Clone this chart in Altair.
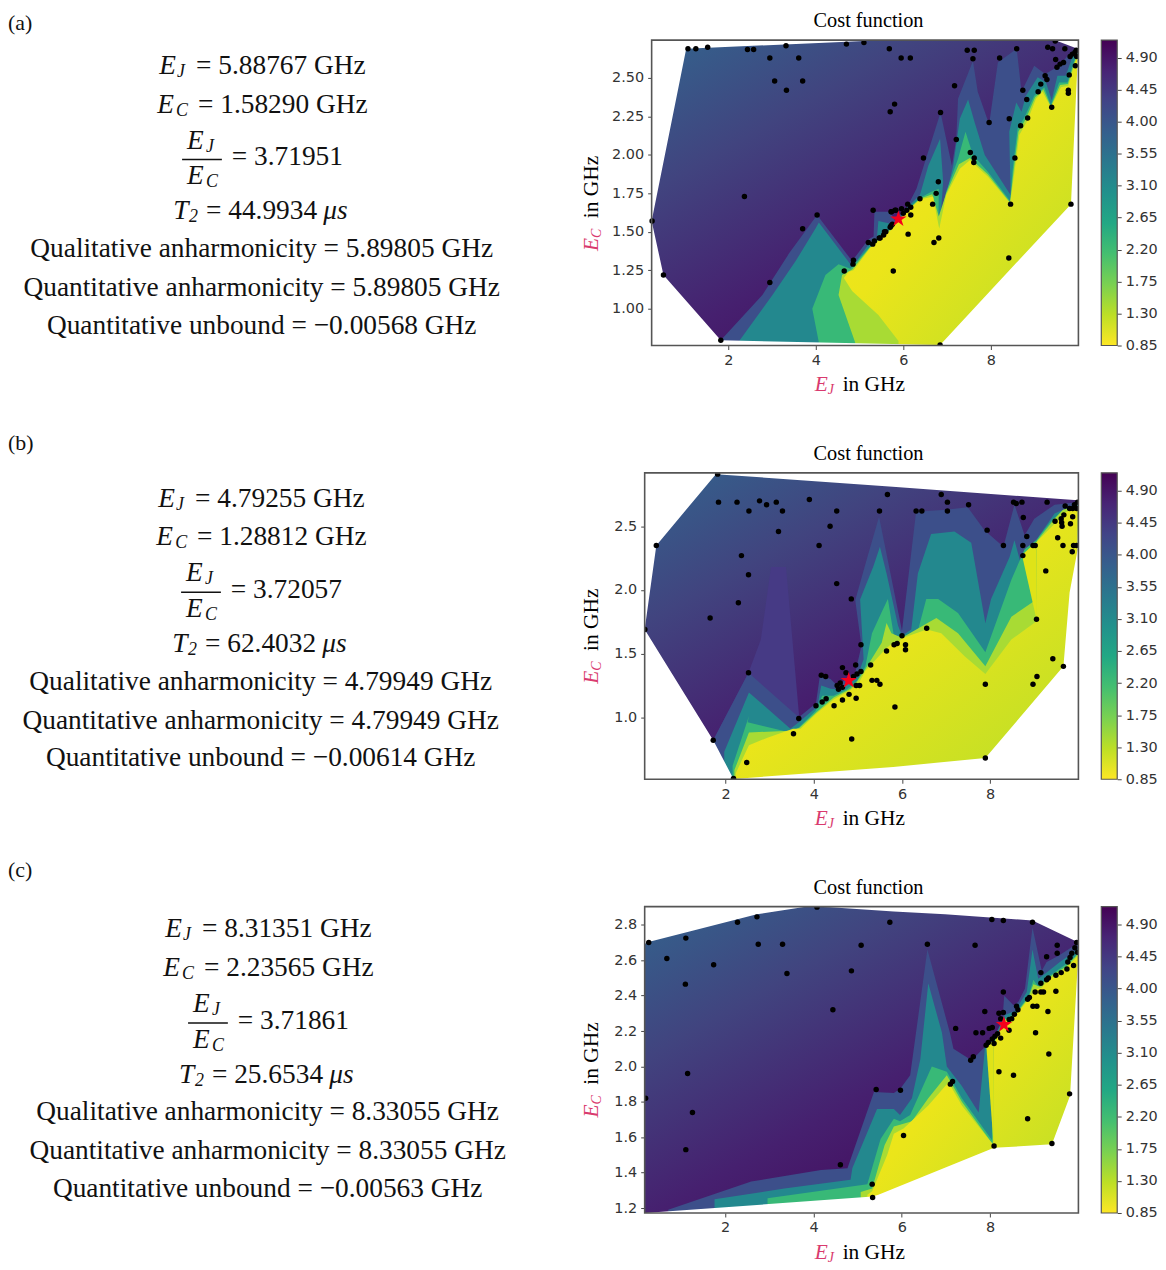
import altair as alt
import pandas as pd

# ---------- values (GHz) ----------
A_POINTS = [(1.08,2.69),(1.26,2.69),(1.53,2.70),(2.44,2.685),(2.58,2.685),(3.32,2.71),(2.95,2.63),(3.61,2.63),(3.06,2.48),(3.70,2.48),(3.33,2.42),(4.70,2.72),(5.10,2.73),(5.68,2.69),(5.80,2.33),(5.70,2.28),(2.37,1.73),(4.03,1.61),(3.70,1.52),(0.26,1.57),(0.52,1.22),(2.95,1.17),(1.83,0.795),(4.65,1.245),(4.85,1.29),(4.86,1.315),(5.31,1.64),(5.77,1.245),(5.20,1.43),(5.30,1.42),(5.34,1.44),(5.45,1.46),(5.55,1.48),(5.60,1.50),(5.70,1.53),(5.75,1.55),(5.72,1.63),(5.83,1.64),
(5.95,2.63),(6.16,2.63),(7.46,2.68),(7.62,2.68),(7.59,2.625),(8.59,2.69),(8.20,2.63),(9.47,2.74),(9.30,2.70),(9.41,2.69),(9.69,2.69),(9.48,2.62),(9.51,2.57),(9.58,2.59),(9.66,2.60),(9.81,2.64),(9.86,2.655),(9.92,2.665),(9.95,2.68),(9.96,2.64),(9.93,2.58),(9.79,2.52),(9.24,2.515),(9.28,2.49),(9.14,2.46),(9.08,2.41),(8.73,2.42),(8.82,2.36),(9.77,2.42),(9.77,2.40),(9.39,2.31),(8.84,2.24),(8.42,2.235),(8.68,2.19),(7.96,2.21),(7.17,2.45),(6.85,2.275),(7.21,2.10),(6.46,1.98),(7.53,2.015),(7.62,1.98),(7.61,1.95),(8.55,1.98),(6.80,1.825),(6.75,1.75),(6.38,1.715),(6.67,1.68),(8.45,1.68),(9.83,1.68),(6.11,1.485),(6.81,1.46),(6.70,1.43),(8.41,1.33),(6.84,0.765),(5.73,1.63),(5.81,1.64),(5.96,1.65),(6.10,1.68),(6.17,1.66),(6.08,1.64),(6.17,1.61),(6.0,1.62),(5.72,1.54),(5.57,1.50),(5.47,1.46)]
A_STAR = [(5.88767,1.5829)]
A_UPPER = [(0.25,1.57),(1.04,2.69),(5.10,2.74),(9.47,2.745),(9.98,2.69),(10.0,2.69)]
A_LOWER = [(0.25,1.57),(0.52,1.22),(1.83,0.795),(6.84,0.765),(9.83,1.68),(9.98,2.60),(10.0,2.69)]
A_BLUE = [(1.83,.795),(2.78,1.09),(3.39,1.36),(4.03,1.61),(4.83,1.31),(5.20,1.45),(5.32,1.47),(5.34,1.63),(5.70,1.63),(5.81,1.57),(6.11,1.675),(6.30,1.78),(6.85,2.275),(7.11,1.93),(7.21,2.105),(7.25,2.365),(7.59,2.61),(7.70,2.41),(7.96,2.20),(8.16,2.60),(8.59,2.69),(8.70,2.41),(8.99,2.58),(9.24,2.525),(9.45,2.56),(9.56,2.57),(9.75,2.645),(9.98,2.71)]
A_TEAL = [(2.25,.79),(3.01,1.09),(3.54,1.31),(3.99,1.52),(4.07,1.56),(4.83,1.275),(5.24,1.43),(5.39,1.44),(5.43,1.57),(5.66,1.555),(5.77,1.535),(6.11,1.665),(6.38,1.74),(6.57,1.93),(6.84,2.105),(6.91,1.825),(6.85,1.59),(7.14,1.93),(7.29,2.235),(7.48,2.36),(7.63,2.21),(7.86,2.0),(8.45,1.74),(8.42,2.15),(8.58,2.34),(8.70,2.28),(8.80,2.385),(9.07,2.505),(9.26,2.47),(9.39,2.355),(9.52,2.515),(9.71,2.515),(9.86,2.635),(9.98,2.69)]
A_GREEN = [(4.07,.78),(3.92,1.0),(4.22,1.22),(4.52,1.29),(4.79,1.26),(5.24,1.405),(5.39,1.415),(5.47,1.48),(5.62,1.50),(5.77,1.525),(6.11,1.65),(6.38,1.72),(6.64,1.76),(6.81,1.78),(6.80,1.545),(6.98,1.76),(7.25,1.975),(7.42,2.15),(7.59,2.0),(7.93,1.89),(8.44,1.70),(8.50,1.91),(8.61,2.17),(8.77,2.245),(8.99,2.385),(9.22,2.44),(9.37,2.325),(9.56,2.47),(9.75,2.47),(9.90,2.61),(9.98,2.665)]
A_LIME = [(4.90,.78),(4.52,1.09),(4.60,1.22),(4.83,1.255),(5.24,1.40),(5.47,1.46),(5.72,1.52),(6.11,1.645),(6.38,1.715),(6.66,1.745),(6.81,1.60),(6.98,1.75),(7.27,1.94),(7.52,1.98),(7.93,1.875),(8.44,1.69),(8.52,1.90),(8.63,2.15),(8.80,2.235),(9.01,2.375),(9.20,2.425),(9.37,2.315),(9.58,2.455),(9.76,2.46),(9.90,2.595),(9.98,2.655)]
A_YELLOW = [(5.89,.79),(5.43,.96),(4.83,1.115),(4.64,1.2),(4.75,1.24),(4.86,1.25),(5.24,1.395),(5.47,1.45),(5.72,1.51),(6.11,1.64),(6.38,1.71),(6.68,1.73),(6.82,1.52),(6.98,1.74),(7.29,1.91),(7.52,1.965),(7.93,1.86),(8.44,1.685),(8.54,1.89),(8.65,2.13),(8.84,2.225),(9.03,2.365),(9.18,2.41),(9.37,2.31),(9.60,2.44),(9.77,2.45),(9.90,2.58),(9.98,2.645)]

B_POINTS = [(1.82,2.91),(1.84,2.69),(2.26,2.69),(2.53,2.62),(2.77,2.70),(2.93,2.67),(3.15,2.69),(3.29,2.62),(3.90,2.71),(4.52,2.62),(4.37,2.50),(3.20,2.46),(4.12,2.35),(0.43,2.35),(2.36,2.27),(2.52,2.12),(4.52,2.05),(4.85,1.93),(2.29,1.90),(1.65,1.78),(0.17,1.69),(5.07,1.57),(5.65,1.52),(5.67,2.75),(5.49,2.62),(4.95,1.41),(5.29,1.41),(4.65,1.39),(4.73,1.35),(5.07,1.36),(4.98,1.34),(4.90,1.32),(2.52,1.35),(4.17,1.33),(4.27,1.32),(5.32,1.29),(5.43,1.29),(5.50,1.26),(5.04,1.25),(4.96,1.25),(4.60,1.27),(4.53,1.25),(4.56,1.22),(4.65,1.235),(4.80,1.18),(4.96,1.15),(4.65,1.135),(4.46,1.09),(4.28,1.145),(4.19,1.12),(4.05,1.09),(3.66,.99),(3.54,.87),(4.86,.83),(1.72,.82),(2.48,.645),(2.18,.52),
(6.89,2.75),(7.03,2.69),(7.03,2.62),(6.32,2.62),(6.45,2.62),(7.51,2.67),(8.53,2.69),(8.59,2.68),(8.72,2.69),(9.29,2.69),(9.70,2.66),(9.80,2.64),(9.91,2.67),(9.98,2.69),(9.87,2.64),(9.96,2.64),(8.75,2.57),(9.67,2.59),(9.47,2.54),(9.61,2.56),(9.62,2.53),(9.63,2.50),(9.87,2.575),(9.82,2.52),(7.93,2.47),(8.83,2.42),(8.30,2.35),(8.74,2.35),(8.97,2.35),(9.02,2.35),(9.65,2.35),(9.89,2.35),(9.96,2.35),(9.53,2.41),(8.74,2.27),(9.86,2.30),(9.26,2.15),(9.05,1.77),(6.56,1.70),(6.0,1.64),(5.89,1.58),(5.82,1.57),(6.08,1.57),(6.08,1.53),(9.42,1.46),(9.66,1.40),(9.06,1.32),(8.97,1.26),(7.89,1.26),(5.84,1.08),(7.89,.68)]
B_STAR = [(4.79255,1.28812)]
B_UPPER = [(0.166,1.69),(0.43,2.35),(1.78,2.91),(5.79,2.81),(9.98,2.705),(10.0,2.70)]
B_LOWER = [(0.166,1.69),(1.72,.82),(2.18,.515),(5.80,.61),(7.89,.68),(9.66,1.40),(9.80,1.98),(9.98,2.315),(10.0,2.70)]
B_FAINT = [(1.72,.82),(2.52,1.35),(2.80,1.61),(3.03,2.18),(3.37,2.18),(3.67,1.0)]
B_BLUE = [(1.72,.82),(2.52,1.35),(3.66,1.0),(4.05,1.11),(4.14,1.33),(4.38,1.30),(4.53,1.25),(4.94,1.35),(5.08,1.56),(4.94,1.92),(5.20,2.24),(5.48,2.575),(6.0,1.68),(6.32,2.615),(7.0,2.63),(7.49,2.65),(7.87,2.47),(8.30,2.34),(8.55,2.67),(8.78,2.43),(9.0,2.56),(9.46,2.67),(9.98,2.69)]
B_TEAL = [(1.97,.73),(2.53,1.195),(3.47,.91),(3.66,.96),(4.08,1.085),(4.17,1.25),(4.38,1.225),(4.53,1.22),(4.98,1.31),(5.13,1.455),(5.05,1.925),(5.35,2.185),(5.50,2.34),(5.65,2.13),(5.91,1.72),(6.0,1.64),(6.21,1.69),(6.36,2.13),(6.66,2.44),(7.19,2.46),(7.57,2.37),(7.89,1.74),(8.02,1.93),(8.44,2.26),(8.55,2.39),(9.0,1.82),(9.04,1.925),(9.10,2.42),(9.46,2.60),(9.98,2.68)]
B_GREEN = [(2.16,.62),(2.53,1.01),(2.50,.96),(3.47,.88),(3.66,.92),(4.04,1.05),(4.19,1.17),(4.45,1.17),(4.75,1.22),(4.98,1.285),(5.17,1.40),(5.32,1.66),(5.53,1.82),(5.68,1.93),(5.83,1.61),(6.0,1.63),(6.36,1.68),(6.55,1.93),(6.82,1.93),(7.27,1.82),(7.89,1.51),(8.48,2.08),(8.78,2.32),(9.04,2.39),(9.38,2.54),(9.61,2.615),(9.98,2.67)]
B_LIME = [(2.2,.585),(2.53,.88),(3.47,.895),(3.67,.915),(4.06,1.04),(4.45,1.155),(4.83,1.225),(4.99,1.285),(5.17,1.38),(5.54,1.585),(5.65,1.74),(5.76,1.66),(6.0,1.625),(6.48,1.72),(6.78,1.78),(7.27,1.66),(7.89,1.40),(8.48,1.79),(9.05,1.925),(9.06,2.385),(9.46,2.56),(9.65,2.63),(9.98,2.66)]
B_YELLOW = [(2.23,.56),(2.53,.78),(2.95,.84),(3.53,.91),(3.70,.91),(4.06,1.03),(4.45,1.14),(4.83,1.215),(5.02,1.27),(5.17,1.365),(5.65,1.545),(5.80,1.585),(5.83,1.56),(6.0,1.62),(6.56,1.69),(6.89,1.66),(7.42,1.48),(7.89,1.34),(8.48,1.61),(9.05,1.755),(9.06,2.38),(9.46,2.52),(9.65,2.60),(9.98,2.655)]
B_PATCH = [(8.72,2.275,2.275),(9.055,1.76,2.38)]

C_POINTS = [(4.08,2.90),(2.72,2.845),(2.28,2.815),(1.11,2.725),(.27,2.70),(2.75,2.69),(3.30,2.69),(.68,2.61),(1.74,2.575),(3.40,2.525),(1.10,2.465),(4.86,2.54),(5.08,2.685),(5.73,2.815),(4.44,2.32),(1.15,1.96),(.20,1.82),(1.26,1.74),(1.11,1.53),(5.42,1.87),(4.61,1.445),(5.33,1.335),(5.34,1.26),
(6.58,2.69),(7.66,2.685),(8.04,2.83),(8.30,2.825),(8.96,2.815),(9.52,2.685),(9.52,2.64),(9.28,2.62),(9.96,2.70),(9.92,2.67),(9.98,2.645),(9.85,2.64),(9.81,2.615),(9.76,2.59),(9.89,2.57),(9.74,2.55),(9.61,2.53),(9.49,2.515),(9.32,2.50),(9.28,2.49),(9.15,2.53),(9.15,2.47),(9.02,2.42),(9.15,2.42),(9.21,2.42),(9.49,2.425),(8.89,2.39),(8.85,2.38),(8.30,2.42),(8.60,2.34),(8.63,2.32),(8.55,2.295),(8.49,2.27),(8.43,2.265),(8.97,2.34),(9.06,2.34),(9.31,2.31),(7.88,2.31),(8.20,2.30),(8.30,2.305),(8.24,2.27),(7.22,2.215),(7.98,2.215),(8.05,2.22),(7.68,2.19),(7.83,2.19),(8.43,2.205),(9.03,2.19),(8.17,2.185),(8.11,2.17),(8.05,2.155),(8.24,2.16),(8.09,2.13),(7.96,2.135),(7.91,2.12),(7.62,2.055),(7.56,2.035),(9.33,2.07),(8.20,1.97),(8.53,1.95),(7.15,1.915),(7.10,1.90),(9.80,1.845),(5.97,1.865),(8.85,1.705),(6.04,1.61),(8.09,1.55),(9.40,1.565)]
C_STAR = [(8.31351,2.23565)]
C_UPPER = [(0.178,2.69),(.22,2.70),(2.72,2.86),(3.86,2.903),(4.39,2.90),(5.82,2.875),(6.98,2.86),(8.96,2.825),(9.92,2.71),(10.0,2.71)]
C_LOWER = [(0.178,1.172),(5.34,1.265),(5.47,1.275),(8.09,1.54),(9.40,1.56),(9.81,1.835),(10.0,2.64),(10.0,2.71)]
C_BLUE = [(.71,1.19),(2.59,1.35),(4.17,1.415),(4.77,1.425),(5.37,1.855),(5.82,1.85),(5.97,1.875),(6.19,1.95),(6.58,2.66),(7.09,2.19),(7.17,2.1),(7.58,2.035),(7.92,2.12),(8.26,2.2),(8.32,2.40),(8.53,2.345),(8.64,2.365),(8.79,2.44),(8.96,2.785),(9.17,2.54),(9.28,2.59),(9.55,2.625),(9.89,2.68),(10.0,2.70)]
C_TEAL = [(1.76,1.25),(3.34,1.31),(4.84,1.36),(4.88,1.425),(5.44,1.76),(5.82,1.76),(5.96,1.725),(6.23,1.82),(6.42,2.04),(6.60,2.47),(6.91,2.19),(7.02,2.0),(7.36,1.89),(7.74,1.74),(7.89,2.12),(8.04,2.14),(8.34,2.29),(8.57,2.315),(8.83,2.42),(8.96,2.66),(9.09,2.495),(9.28,2.53),(9.58,2.59),(9.89,2.645),(10.0,2.67)]
C_GREEN = [(2.96,1.255),(5.22,1.335),(5.52,1.59),(5.82,1.705),(5.96,1.69),(6.19,1.725),(6.68,2.0),(7.02,1.97),(7.36,1.82),(8.04,1.585),(8.08,2.14),(8.34,2.27),(8.57,2.30),(8.87,2.395),(8.98,2.49),(9.09,2.45),(9.28,2.50),(9.70,2.575),(9.92,2.62),(10.0,2.65)]
C_LIME = [(5.07,1.29),(5.33,1.31),(5.61,1.555),(5.82,1.66),(5.96,1.67),(6.23,1.69),(6.60,1.82),(7.02,1.95),(7.36,1.80),(8.06,1.56),(8.08,2.13),(8.34,2.265),(8.57,2.29),(8.87,2.39),(8.98,2.465),(9.13,2.45),(9.28,2.495),(9.70,2.56),(9.92,2.615),(10.0,2.64)]
C_YELLOW = [(5.22,1.275),(5.33,1.295),(5.67,1.5),(5.82,1.62),(6.04,1.65),(6.60,1.78),(7.06,1.91),(7.36,1.78),(8.08,1.555),(8.08,2.12),(8.34,2.26),(8.57,2.287),(8.87,2.38),(9.02,2.435),(9.17,2.445),(9.32,2.49),(9.70,2.55),(9.92,2.605),(10.0,2.63)]
C_PATCH = [(7.91,2.13,2.13),(8.08,1.555,2.14)]

X_TICKS = [2, 4, 6, 8]
A_Y_TICKS = [1.00, 1.25, 1.50, 1.75, 2.00, 2.25, 2.50]
B_Y_TICKS = [1.0, 1.5, 2.0, 2.5]
C_Y_TICKS = [1.2, 1.4, 1.6, 1.8, 2.0, 2.2, 2.4, 2.6, 2.8]
CBAR_TICKS = [0.85, 1.30, 1.75, 2.20, 2.65, 3.10, 3.55, 4.00, 4.45, 4.90]
CBAR_RANGE = (0.85, 5.15)

LABELS = ["(a)", "(b)", "(c)"]
EJ = ["5.88767", "4.79255", "8.31351"]
EC = ["1.58290", "1.28812", "2.23565"]
RATIO = ["3.71951", "3.72057", "3.71861"]
T2 = ["44.9934", "62.4032", "25.6534"]
QUAL = ["5.89805", "4.79949", "8.33055"]
UNBOUND = ["\u22120.00568", "\u22120.00614", "\u22120.00563"]

# ---------- layout and style ----------
SERIF = "Liberation Serif"
SANS = "DejaVu Sans"
PINK = "#d93a6e"
FRAME = "#555555"
TICK = "#444444"
VIRIDIS_R = ["#440154","#482475","#414487","#355f8d","#2a788e","#21918c","#22a884","#44bf70","#7ad151","#bddf26","#fde725"]
LEVEL_COLORS = dict(faint="#463a85", blue="#3c4f8a", teal="#23888e", green="#38b977", lime="#a8db34")
CELL_W = 436
TEXT_W = 640
LEFT = 645

def grad(stops, x1=0, y1=0, x2=1, y2=1):
    return alt.LinearGradient(gradient="linear", x1=x1, y1=y1, x2=x2, y2=y2,
                              stops=[alt.GradientStop(offset=o, color=c) for o, c in stops])

def panel(points, star, upper, lower, levels, yellow, patch, xdom, ydom, yticks, yfmt, inset, h):
    xa = alt.Axis(values=X_TICKS, grid=False, domain=False, tickColor=TICK, tickSize=4, labelColor="#333333",
                  labelFont=SANS, labelFontSize=14.5, title=None, labelPadding=4)
    ya = alt.Axis(values=yticks, format=yfmt, grid=False, domain=False, tickColor=TICK, tickSize=4, labelColor="#333333",
                  labelFont=SANS, labelFontSize=14.5, title=None, labelPadding=4, offset=-inset)
    X = lambda: alt.X("x:Q", scale=alt.Scale(domain=xdom, range=[inset, CELL_W], nice=False, zero=False), axis=xa)
    Y = lambda: alt.Y("y:Q", scale=alt.Scale(domain=ydom, nice=False, zero=False), axis=ya, stack=None)
    def area(rows, color, edge):
        df = pd.DataFrame([{"x": r[0], "y": r[1], "b": edge} for r in rows])
        return alt.Chart(df).mark_area(color=color, clip=True, interpolate="linear", order=False).encode(
            x=X(), y=Y(), y2="b:Q")
    layers = []
    base = [(xdom[0], ydom[1]), (xdom[1], ydom[1])]
    layers.append(area(base, grad([(0,"#33638d"),(0.3,"#41447f"),(0.62,"#46206f"),(0.85,"#440f60")], 0, 0, 0.8, 1), ydom[0]))
    for rows, c in levels:
        layers.append(area(rows, c, ydom[0]))
    layers.append(area(yellow, grad([(0,"#f6e61f"),(0.45,"#ebe51a"),(1,"#b8de29")], 0, 0, 1, 1), ydom[0]))
    if patch:
        pf = pd.DataFrame([{"x": p[0], "y": p[1], "y2": p[2]} for p in patch])
        layers.append(alt.Chart(pf).mark_area(color="#dfe318", clip=True).encode(x=X(), y=Y(), y2="y2:Q"))
    layers.append(area(lower, "white", ydom[0]))
    layers.append(area(upper, "white", ydom[1]))
    pts = pd.DataFrame(points, columns=["x", "y"])
    layers.append(alt.Chart(pts).mark_circle(color="black", size=30, opacity=1, clip=True).encode(x=X(), y=Y()))
    star_shape = "M0,-1L0.224,-0.309L0.951,-0.309L0.363,0.118L0.588,0.809L0,0.382L-0.588,0.809L-0.363,0.118L-0.951,-0.309L-0.224,-0.309Z"
    layers.append(alt.Chart(pd.DataFrame(star, columns=["x", "y"])).mark_point(
        shape=star_shape, filled=True, color="#f5001c", size=300, opacity=1).encode(x=X(), y=Y()))
    one = pd.DataFrame({"a": [0]})
    layers.append(alt.Chart(one).mark_rect(fill=None, stroke=FRAME, strokeWidth=1.6).encode(
        x=alt.value(inset), x2=alt.value(CELL_W), y=alt.value(0), y2=alt.value(h)))
    def txt(t, xp, yp, size, color="black", style="normal", angle=0, align="left"):
        return alt.Chart(one).mark_text(text=t, font=SERIF, fontSize=size, color=color, fontStyle=style,
                                        angle=angle, align=align, baseline="middle").encode(
            x=alt.value(xp), y=alt.value(yp))
    layers.append(txt("Cost function", 870 - LEFT, -19, 20.4, align="center"))
    bx = 816 - LEFT
    by = h + 40
    layers += [txt("E", bx, by, 21.5, PINK, "italic"), txt("J", bx + 13, by + 5, 14, PINK, "italic"), txt("in GHz", bx + 28, by, 21.5)]
    yx = 592 - LEFT
    yy = 212
    layers += [txt("E", yx, yy, 21.5, PINK, "italic", 270), txt("C", yx + 5, yy - 13, 14, PINK, "italic", 270), txt("in GHz", yx, yy - 33, 21.5, "black", "normal", 270)]
    return alt.layer(*layers).properties(width=CELL_W, height=h)

def cbar(h):
    df = pd.DataFrame({"lo": [CBAR_RANGE[0]], "hi": [CBAR_RANGE[1]]})
    sc = alt.Scale(domain=list(CBAR_RANGE), nice=False, zero=False)
    bar = alt.Chart(df).mark_rect(
        color=grad([(i / 10, c) for i, c in enumerate(VIRIDIS_R)], 0, 0, 0, 1), stroke=FRAME, strokeWidth=1.2
    ).encode(
        x=alt.value(23), x2=alt.value(39),
        y=alt.Y("lo:Q", scale=sc, axis=alt.Axis(orient="right", values=CBAR_TICKS, format=".2f", grid=False, domain=False,
                                                 tickColor=TICK, tickSize=4, labelColor="#333333", labelFont=SANS,
                                                 labelFontSize=14.5, title=None, labelPadding=4)),
        y2="hi:Q")
    return bar.properties(width=39, height=h)

def text_panel(i, h, dx, dy, label_y):
    roman, ital, sub, center = [], [], [], []
    def add(lst, t, x, y):
        lst.append({"t": t, "x": x + dx - 8, "y": y + dy})
    add(ital, "E", 160, 26); add(sub, "J", 178, 32); add(roman, f"= {EJ[i]} GHz", 197, 26)
    add(ital, "E", 158, 65); add(sub, "C", 177, 71); add(roman, f"= {EC[i]} GHz", 199, 65)
    add(ital, "E", 188, 101); add(sub, "J", 207, 107); add(ital, "E", 188, 137); add(sub, "C", 207, 143)
    add(roman, f"= {RATIO[i]}", 233, 118)
    add(ital, "T", 174, 172); add(sub, "2", 190, 178); add(roman, f"= {T2[i]}", 207, 172); add(ital, "\u03bcs", 325, 172)
    add(center, f"Qualitative anharmonicity = {QUAL[i]} GHz", 263, 210)
    add(center, f"Quantitative anharmonicity = {QUAL[i]} GHz", 263, 249)
    add(center, f"Quantitative unbound = {UNBOUND[i]} GHz", 263, 287)
    xs = alt.Scale(domain=[0, TEXT_W], range=[0, TEXT_W], nice=False, zero=False)
    ys = alt.Scale(domain=[0, h], range=[0, h], nice=False, zero=False)
    def lay(rows, style, size, align):
        return alt.Chart(pd.DataFrame(rows)).mark_text(font=SERIF, fontSize=size, fontStyle=style, align=align,
                                                       baseline="middle", color="#111111").encode(
            x=alt.X("x:Q", scale=xs, axis=None), y=alt.Y("y:Q", scale=ys, axis=None), text="t:N")
    bar = pd.DataFrame({"x": [183 + dx - 8], "x2": [223 + dx - 8], "y": [120 + dy]})
    rule = alt.Chart(bar).mark_rule(color="#111111", strokeWidth=1.4).encode(
        x=alt.X("x:Q", scale=xs, axis=None), x2="x2:Q", y=alt.Y("y:Q", scale=ys, axis=None))
    label = lay([{"t": LABELS[i], "x": 0, "y": label_y}], "normal", 22, "left")
    return alt.layer(lay(roman, "normal", 27.5, "left"), lay(ital, "italic", 27.5, "left"), lay(sub, "italic", 18, "left"),
                     lay(center, "normal", 27.5, "center"), rule, label).properties(width=TEXT_W, height=h)

def spacer(h):
    return alt.Chart(pd.DataFrame({"a": [0]})).mark_text(text=" ").encode(x=alt.value(0)).properties(width=1, height=h)

A_LEVELS = [(A_BLUE, LEVEL_COLORS["blue"]), (A_TEAL, LEVEL_COLORS["teal"]), (A_GREEN, LEVEL_COLORS["green"]), (A_LIME, LEVEL_COLORS["lime"])]
B_LEVELS = [(B_FAINT, LEVEL_COLORS["faint"]), (B_BLUE, LEVEL_COLORS["blue"]), (B_TEAL, LEVEL_COLORS["teal"]), (B_GREEN, LEVEL_COLORS["green"]), (B_LIME, LEVEL_COLORS["lime"])]
C_LEVELS = [(C_BLUE, LEVEL_COLORS["blue"]), (C_TEAL, LEVEL_COLORS["teal"]), (C_GREEN, LEVEL_COLORS["green"]), (C_LIME, LEVEL_COLORS["lime"])]

pa = panel(A_POINTS, A_STAR, A_UPPER, A_LOWER, A_LEVELS, A_YELLOW, None, [0.25, 10.0], [0.761, 2.746], A_Y_TICKS, ".2f", 7, 307)
pb = panel(B_POINTS, B_STAR, B_UPPER, B_LOWER, B_LEVELS, B_YELLOW, B_PATCH, [0.166, 10.0], [0.513, 2.92], B_Y_TICKS, ".1f", 0, 308)
pc = panel(C_POINTS, C_STAR, C_UPPER, C_LOWER, C_LEVELS, C_YELLOW, C_PATCH, [0.178, 10.0], [1.172, 2.903], C_Y_TICKS, ".1f", 0, 308)

cells = [
    text_panel(0, 307, 0, 0, -17), pa, cbar(307),
    spacer(128), spacer(128), spacer(128),
    text_panel(1, 308, -1, 0, 441 - 471), pb, cbar(308),
    spacer(128), spacer(128), spacer(128),
    text_panel(2, 308, 6, -3, 870 - 907), pc, cbar(308),
]
chart = alt.concat(*cells, columns=3, bounds="flush", spacing=0).properties(padding=0).configure_view(stroke=None)
chart.save("out.html", embed_options={"renderer": "svg", "actions": False})
